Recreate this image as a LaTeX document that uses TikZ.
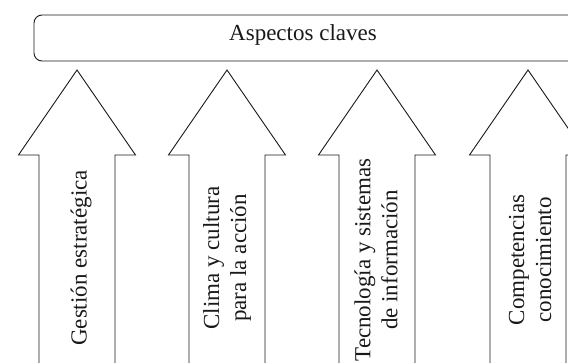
\documentclass[tikz,border=0pt]{standalone}
\usepackage{fontspec}
\setmainfont{Liberation Serif}
\begin{document}
\begin{tikzpicture}[x=1pt,y=-1pt,
  outline/.style={draw=black!90, line width=0.9pt, line join=miter},
  caption/.style={font=\fontsize{23}{27}\selectfont, align=center, inner sep=0pt, text=black!90},
  upcaption/.style={caption, rotate=90}]
\useasboundingbox (0,0) rectangle (568,362);
\clip (0,0) rectangle (568,362);

% header bar
\draw[outline, rounded corners=8pt] (34,15) rectangle (580,61);
\node[caption, anchor=base] (header) at (303,40) {Aspectos claves};

% upward block arrows: centre x, shaft half width 38, head half width 58.5
\foreach \c/\n in {77/a, 227/b, 377/c, 528/d}{
  \draw[outline] (\c-38,372) -- (\c-38,155) -- (\c-58.5,155) -- (\c,70)
     -- (\c+58.5,155) -- (\c+38,155) -- (\c+38,372);
}

% arrow labels
\node[upcaption] (lab-a) at (81,258) {Gestión estratégica};
\node[upcaption] (lab-b) at (227,258) {Clima y cultura\\para la acción};
\node[upcaption] (lab-c) at (376,260) {Tecnología y sistemas\\de información};
\node[upcaption] (lab-d) at (530,260) {Competencias\\conocimiento};
\end{tikzpicture}
\end{document}
